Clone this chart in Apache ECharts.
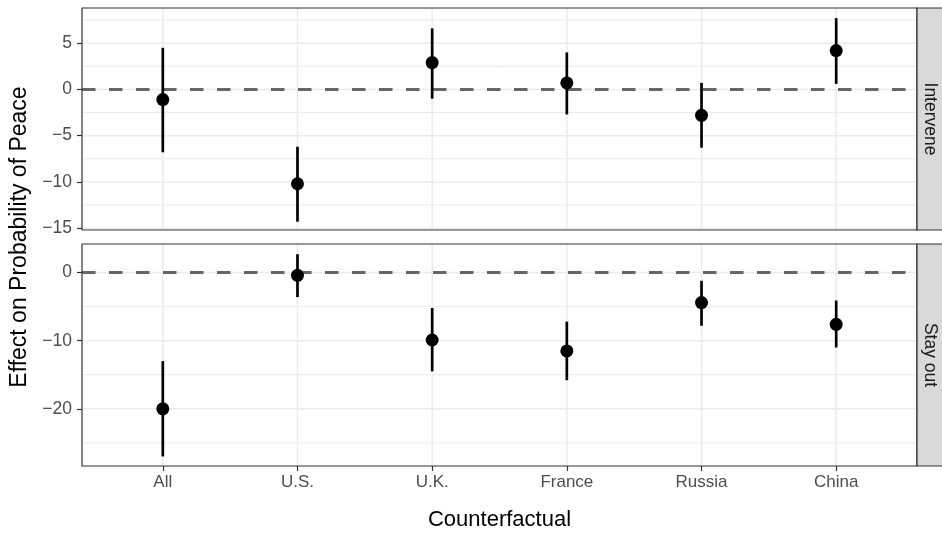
<!DOCTYPE html>
<html><head><meta charset="utf-8">
<script src="https://cdn.jsdelivr.net/npm/echarts@6/dist/echarts.min.js"></script>
<style>html,body{margin:0;padding:0;background:#fff}#c{width:942px;height:537px}</style>
</head><body><div id="c"></div>
<script>
// ---- data ----
const categories = ['All', 'U.S.', 'U.K.', 'France', 'Russia', 'China'];
const facets = ['Intervene', 'Stay out'];
const interveneEst  = [-1.1, -10.2, 2.9, 0.7, -2.8, 4.2];
const interveneLow  = [-6.8, -14.3, -1.0, -2.7, -6.3, 0.6];
const interveneHigh = [4.5, -6.2, 6.6, 4.0, 0.7, 7.7];
const stayEst  = [-20.0, -0.4, -9.9, -11.5, -4.4, -7.6];
const stayLow  = [-27.0, -3.6, -14.5, -15.8, -7.8, -11.0];
const stayHigh = [-13.0, 2.7, -5.2, -7.2, -1.2, -4.1];
const interveneTicks = [-15, -10, -5, 0, 5];
const interveneMinor = [-12.5, -7.5, -2.5, 2.5, 7.5];
const stayTicks = [-20, -10, 0];
const stayMinor = [-25, -15, -5];
const interveneRange = [-15.2, 8.8];
const stayRange = [-28.4, 4.2];
const xRange = [-0.6, 5.6];

// ---- layout ----
const FONT = 'Liberation Sans, Arial, Helvetica, sans-serif';
const PL = 82, PR = 917;
const panels = [{ top: 8, height: 222 }, { top: 244, height: 222 }];
const catIdx = categories.map((c, i) => i);
const fmt = v => String(v).replace('-', '\u2212');

const chart = echarts.init(document.getElementById('c'), null, { renderer: 'canvas' });

function hLines(values, gi, width) {
  return {
    type: 'custom', xAxisIndex: gi, yAxisIndex: gi, z: 1, silent: true,
    data: values.map(v => [xRange[0], v]),
    renderItem: (params, api) => {
      const cs = params.coordSys;
      const y = api.coord([xRange[0], api.value(1)])[1];
      return { type: 'line', shape: { x1: cs.x, y1: y, x2: cs.x + cs.width, y2: y },
        style: { stroke: '#ebebeb', lineWidth: width } };
    }
  };
}
function vLines(gi, range) {
  return {
    type: 'custom', xAxisIndex: gi, yAxisIndex: gi, z: 1, silent: true,
    data: catIdx.map(i => [i, range[0]]),
    renderItem: (params, api) => {
      const cs = params.coordSys;
      const x = api.coord([api.value(0), range[0]])[0];
      return { type: 'line', shape: { x1: x, y1: cs.y, x2: x, y2: cs.y + cs.height },
        style: { stroke: '#ebebeb', lineWidth: 1.5 } };
    }
  };
}
function zeroLine(gi) {
  return {
    type: 'custom', xAxisIndex: gi, yAxisIndex: gi, z: 2, silent: true,
    data: [[xRange[0], 0]],
    renderItem: (params, api) => {
      const cs = params.coordSys;
      const y = api.coord([xRange[0], api.value(1)])[1];
      return { type: 'line', shape: { x1: cs.x, y1: y, x2: cs.x + cs.width, y2: y },
        style: { stroke: '#666666', lineWidth: 3, lineDash: [13.5, 13.5] } };
    }
  };
}
function errBars(gi, low, high) {
  return {
    type: 'custom', xAxisIndex: gi, yAxisIndex: gi, z: 3, silent: true,
    encode: { x: 0, y: [1, 2] },
    data: catIdx.map(i => [i, low[i], high[i]]),
    renderItem: (params, api) => {
      const p1 = api.coord([api.value(0), api.value(1)]);
      const p2 = api.coord([api.value(0), api.value(2)]);
      return { type: 'line', shape: { x1: p1[0], y1: p1[1], x2: p2[0], y2: p2[1] },
        style: { stroke: '#000', lineWidth: 2.7 } };
    }
  };
}
function points(gi, est) {
  return {
    type: 'scatter', xAxisIndex: gi, yAxisIndex: gi, z: 4, silent: true,
    symbol: 'circle', symbolSize: 13, itemStyle: { color: '#000', opacity: 1 },
    data: catIdx.map(i => [i, est[i]])
  };
}

const yAxisCommon = (gi, range, ticks) => ({
  gridIndex: gi, type: 'value', min: range[0], max: range[1],
  axisLine: { show: false, onZero: false },
  splitLine: { show: false },
  axisTick: { show: true, customValues: ticks, length: 5, lineStyle: { color: '#333', width: 1.2 } },
  axisLabel: { customValues: ticks, formatter: fmt, fontSize: 17.5, color: '#4d4d4d', margin: 10, fontFamily: FONT }
});

const option = {
  animation: false,
  backgroundColor: '#fff',
  textStyle: { fontFamily: FONT },
  grid: panels.map(p => ({
    left: PL, top: p.top, width: PR - PL, height: p.height,
    show: true, borderColor: '#333', borderWidth: 1.2, backgroundColor: 'transparent', z: 10,
    containLabel: false
  })),
  xAxis: [
    { gridIndex: 0, type: 'value', min: xRange[0], max: xRange[1],
      axisLine: { show: false, onZero: false }, axisTick: { show: false },
      axisLabel: { show: false }, splitLine: { show: false } },
    { gridIndex: 1, type: 'value', min: xRange[0], max: xRange[1],
      axisLine: { show: false, onZero: false }, splitLine: { show: false },
      axisTick: { show: true, customValues: catIdx, length: 5, lineStyle: { color: '#333', width: 1.2 } },
      axisLabel: { customValues: catIdx, formatter: v => categories[Math.round(v)],
        fontSize: 17, color: '#4d4d4d', margin: 8, fontFamily: FONT },
      name: 'Counterfactual', nameLocation: 'middle', nameGap: 43,
      nameTextStyle: { fontSize: 22, color: '#000', fontFamily: FONT } }
  ],
  yAxis: [
    yAxisCommon(0, interveneRange, interveneTicks),
    yAxisCommon(1, stayRange, stayTicks)
  ],
  series: [
    hLines(interveneMinor, 0, 1.0), hLines(interveneTicks, 0, 1.5), vLines(0, interveneRange),
    zeroLine(0), errBars(0, interveneLow, interveneHigh), points(0, interveneEst),
    hLines(stayMinor, 1, 1.0), hLines(stayTicks, 1, 1.5), vLines(1, stayRange),
    zeroLine(1), errBars(1, stayLow, stayHigh), points(1, stayEst)
  ],
  graphic: [
    { type: 'text', x: 20, y: (panels[0].top + panels[1].top + panels[1].height) / 2,
      rotation: Math.PI / 2,
      style: { text: 'Effect on Probability of Peace', fontSize: 23, fill: '#000',
        align: 'center', verticalAlign: 'middle', fontFamily: FONT } }
  ].concat(panels.flatMap((p, k) => [
    { type: 'rect', z: 20, shape: { x: PR, y: p.top, width: 40, height: p.height },
      style: { fill: '#d9d9d9', stroke: '#333', lineWidth: 1.2 } },
    { type: 'text', z: 21, x: PR + 13, y: p.top + p.height / 2, rotation: -Math.PI / 2,
      style: { text: facets[k], fontSize: 17.5, fill: '#1a1a1a', align: 'center',
        verticalAlign: 'middle', fontFamily: FONT } }
  ]))
};
chart.setOption(option);
</script>
</body></html>
